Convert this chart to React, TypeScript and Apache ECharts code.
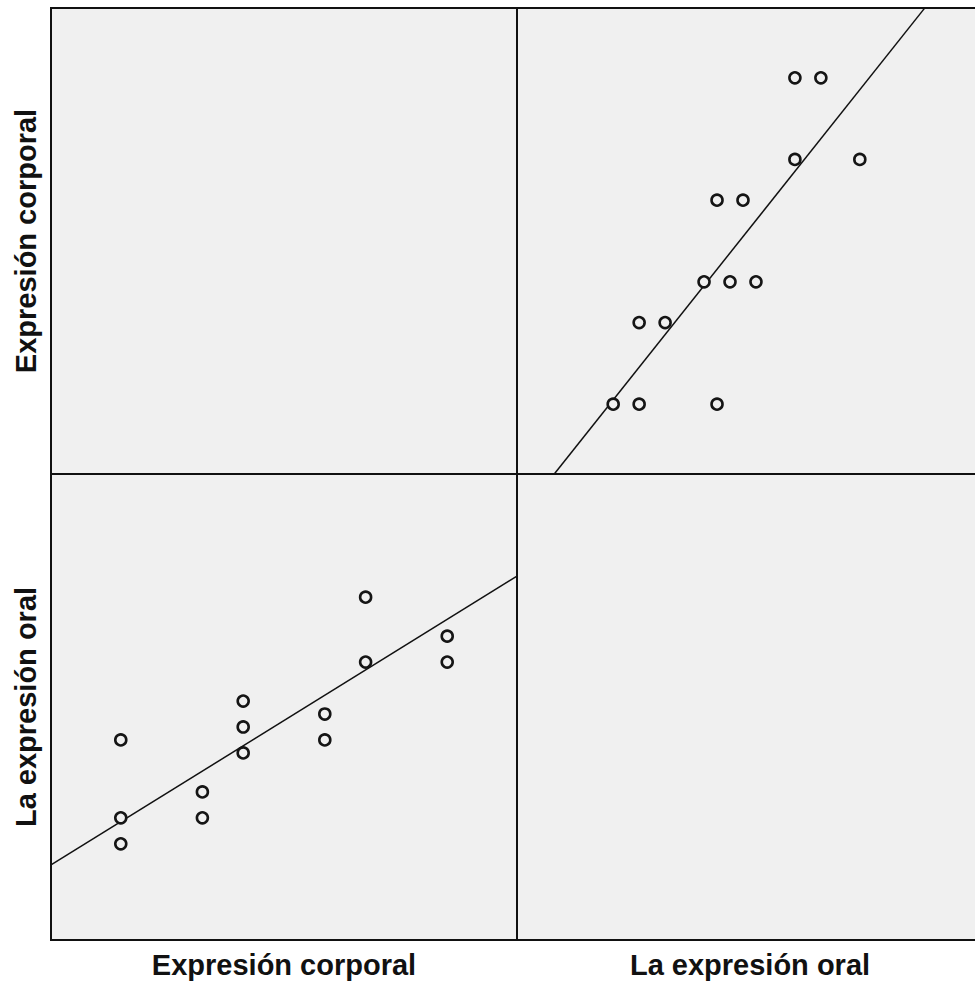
import React, { useEffect, useRef } from "react";
import * as echarts from "echarts";

// Variables of the scatterplot matrix
const varNames = ["Expresión corporal", "La expresión oral"];

// Paired observations (Expresión corporal, La expresión oral)
const corporal = [10, 10, 10, 12, 12, 13, 13, 13, 15, 15, 16, 16, 18, 18];
const oral = [28, 22, 20, 24, 22, 31, 29, 27, 30, 28, 39, 34, 36, 34];

// Axis ranges (same range in a variable's row and column)
const corporalRange = [8.29, 19.71];
const oralRange = [12.59, 48.49];

// Fit lines
// bottom-left: oral regressed on corporal (x = corporal, y = oral)
const fitOralOnCorporal = [
  [8.29, 18.37],
  [19.71, 40.63],
];
// top-right: corporal regressed on oral (x = oral, y = corporal)
const fitCorporalOnOral = [
  [15.46, 8.29],
  [43.98, 19.7],
];

export default function App() {
  const ref = useRef<HTMLDivElement>(null);

  useEffect(() => {
    if (!ref.current) return;
    const chart = echarts.init(ref.current, null, { renderer: "svg" });

    const L = 51;
    const T = 8;
    const S = 466;
    const gridStyle = {
      show: true,
      backgroundColor: "#f0f0f0",
      borderColor: "#111",
      borderWidth: 2,
      containLabel: false,
    };
    const grids = [
      { left: L, top: T, width: S, height: S, ...gridStyle },
      { left: L + S, top: T, width: S, height: S, ...gridStyle },
      { left: L, top: T + S, width: S, height: S, ...gridStyle },
      { left: L + S, top: T + S, width: S, height: S, ...gridStyle },
    ];

    const nameStyle = {
      fontFamily: "'Liberation Sans', Arial, sans-serif",
      fontWeight: "bold" as const,
      fontSize: 29,
      color: "#111",
    };

    const hiddenAxisParts = {
      axisLine: { show: false },
      axisTick: { show: false },
      axisLabel: { show: false },
      splitLine: { show: false },
    };

    const rangeOf = (v: number) => (v === 0 ? corporalRange : oralRange);

    // grid i: column = i % 2, row = floor(i / 2)
    const xAxes = grids.map((_, i) => {
      const col = i % 2;
      const r = rangeOf(col);
      const showName = i >= 2;
      return {
        type: "value",
        gridIndex: i,
        min: r[0],
        max: r[1],
        show: showName,
        name: showName ? varNames[col] : "",
        nameLocation: "middle",
        nameGap: 10,
        nameTextStyle: nameStyle,
        ...hiddenAxisParts,
      };
    });
    const yAxes = grids.map((_, i) => {
      const row = Math.floor(i / 2);
      const r = rangeOf(row);
      const showName = i % 2 === 0;
      return {
        type: "value",
        gridIndex: i,
        min: r[0],
        max: r[1],
        show: showName,
        name: showName ? varNames[row] : "",
        nameLocation: "middle",
        nameGap: 11,
        nameRotate: 90,
        nameTextStyle: nameStyle,
        ...hiddenAxisParts,
      };
    });

    const pointsBL = corporal.map((c, k) => [c, oral[k]]);
    const pointsTR = corporal.map((c, k) => [oral[k], c]);

    const scatterStyle = {
      type: "scatter",
      symbol: "circle",
      symbolSize: 11,
      itemStyle: {
        color: "#f0f0f0",
        borderColor: "#151515",
        borderWidth: 2.6,
        opacity: 1,
      },
      emphasis: { disabled: true },
    };
    const lineStyle = {
      type: "line",
      symbol: "none",
      lineStyle: { color: "#111", width: 1.5 },
      emphasis: { disabled: true },
      z: 1,
    };

    chart.setOption({
      animation: false,
      backgroundColor: "#fff",
      grid: grids,
      xAxis: xAxes,
      yAxis: yAxes,
      series: [
        { ...lineStyle, xAxisIndex: 2, yAxisIndex: 2, data: fitOralOnCorporal },
        { ...lineStyle, xAxisIndex: 1, yAxisIndex: 1, data: fitCorporalOnOral },
        { ...scatterStyle, xAxisIndex: 2, yAxisIndex: 2, data: pointsBL, z: 3 },
        { ...scatterStyle, xAxisIndex: 1, yAxisIndex: 1, data: pointsTR, z: 3 },
      ],
    });

    return () => chart.dispose();
  }, []);

  return (
    <div
      style={{
        position: "absolute",
        left: 0,
        top: 0,
        width: 975,
        height: 987,
        background: "#fff",
        overflow: "hidden",
      }}
    >
      <div ref={ref} style={{ width: 1000, height: 987 }} />
    </div>
  );
}
